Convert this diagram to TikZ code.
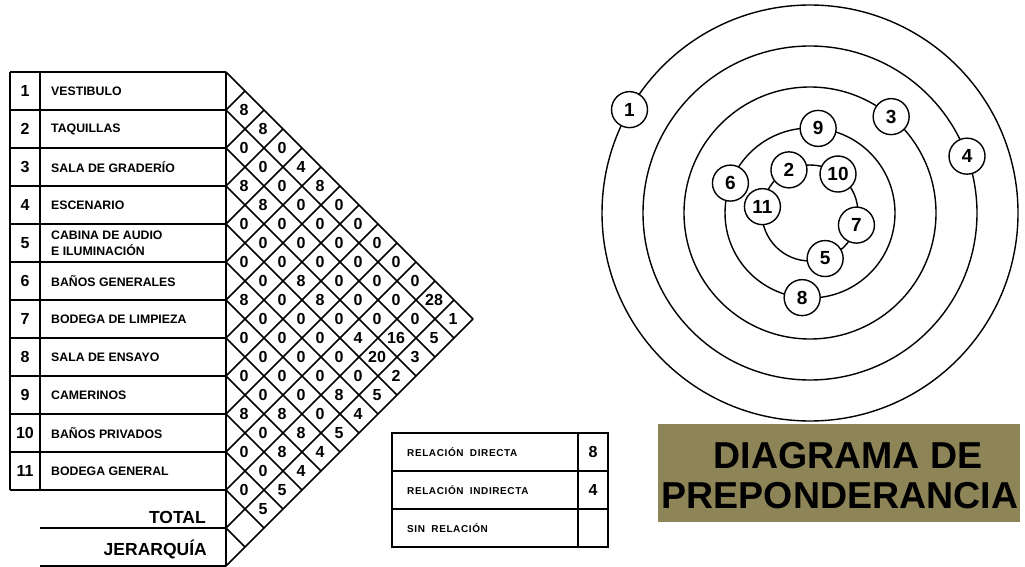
\documentclass[tikz,border=0pt]{standalone}
\usepackage{fontspec}
\setmainfont{Liberation Sans}
\usetikzlibrary{calc}
\definecolor{titlebg}{RGB}{141,133,87}
\begin{document}
\begin{tikzpicture}[x=1pt,y=-1pt,
  thinline/.style={line width=1.6pt},
  thickline/.style={line width=2.7pt},
  rowlabel/.style={anchor=west, font=\fontsize{12.3}{16}\selectfont\bfseries, inner sep=0, align=left},
  rownum/.style={font=\fontsize{16}{18}\selectfont\bfseries, inner sep=0},
  cellval/.style={font=\fontsize{16}{18}\selectfont\bfseries, inner sep=0},
  foot/.style={anchor=base east, font=\fontsize{17.5}{19}\selectfont\bfseries, inner sep=0},
  legtext/.style={anchor=west, font=\fontsize{10}{12}\selectfont\bfseries\addfontfeatures{LetterSpace=6}, inner sep=0},
  legval/.style={font=\fontsize{16}{18}\selectfont\bfseries, inner sep=0},
  ring/.style={line width=1.4pt},
  bub/.style={circle, draw, fill=white, line width=1.4pt, minimum size=36pt, inner sep=0, font=\fontsize{19}{21}\selectfont\bfseries},
  titletext/.style={font=\fontsize{37.5}{40}\selectfont\bfseries, inner sep=0, anchor=base}
]
\useasboundingbox (0,0) rectangle (1025,567);

% ---- table ----
\foreach \k in {0,...,11} \draw[thinline] (40,{72+38*\k}) -- (226,{72+38*\k});
\draw[thinline] (226,72) -- (226,566);
\draw[thinline] (40,528) -- (226,528);
\draw[thinline] (40,566) -- (226,566);
\foreach \k in {0,...,11} \draw[thickline] (10,{72+38*\k}) -- (40,{72+38*\k});
\draw[thickline] (10,72) -- (10,490);
\draw[thickline] (40,72) -- (40,490);

\foreach \n/\lab in {1/VESTIBULO, 2/TAQUILLAS, 3/SALA DE GRADERÍO, 4/ESCENARIO,
  5/{CABINA DE AUDIO\\E ILUMINACIÓN}, 6/BAÑOS GENERALES, 7/BODEGA DE LIMPIEZA,
  8/SALA DE ENSAYO, 9/CAMERINOS, 10/BAÑOS PRIVADOS, 11/BODEGA GENERAL} {
  \node[rownum] (num\n) at (25,{72+38*\n-19}) {\n};
  \node[rowlabel] (lab\n) at (51,{72+38*\n-19}) {\lab};
}
\node[foot] (total) at (206,523) {TOTAL};
\node[foot] (jer) at (207,555) {JERARQUÍA};

% ---- triangular matrix ----
\foreach \k in {0,...,13} {
  \draw[thinline] (226,{72+38*\k}) -- ++({247-19*\k},{247-19*\k});
  \draw[thinline] (226,{72+38*\k}) -- ++({19*\k},{-19*\k});
}
\foreach \i/\j/\v in {
  1/2/8, 1/3/8, 1/4/0, 1/5/4, 1/6/8, 1/7/0, 1/8/0, 1/9/0, 1/10/0, 1/11/0, 1/12/28, 1/13/1,
  2/3/0, 2/4/0, 2/5/0, 2/6/0, 2/7/0, 2/8/0, 2/9/0, 2/10/0, 2/11/0, 2/12/0, 2/13/5,
  3/4/8, 3/5/8, 3/6/0, 3/7/0, 3/8/0, 3/9/0, 3/10/0, 3/11/0, 3/12/16, 3/13/3,
  4/5/0, 4/6/0, 4/7/0, 4/8/8, 4/9/8, 4/10/0, 4/11/4, 4/12/20, 4/13/2,
  5/6/0, 5/7/0, 5/8/0, 5/9/0, 5/10/0, 5/11/0, 5/12/0, 5/13/5,
  6/7/8, 6/8/0, 6/9/0, 6/10/0, 6/11/0, 6/12/8, 6/13/4,
  7/8/0, 7/9/0, 7/10/0, 7/11/0, 7/12/0, 7/13/5,
  8/9/0, 8/10/0, 8/11/8, 8/12/8, 8/13/4,
  9/10/8, 9/11/0, 9/12/8, 9/13/4,
  10/11/0, 10/12/0, 10/13/5,
  11/12/0, 11/13/5}
  \node[cellval] (m\i-\j) at ({225+19*(\j-\i)},{72+19*(\i+\j-1)}) {\v};

% ---- legend ----
\draw[thinline] (392,433) rectangle (578,547);
\draw[thinline] (392,471) -- (578,471);
\draw[thinline] (392,509) -- (578,509);
\draw[thickline] (578,433) rectangle (608,547);
\draw[thickline] (578,471) -- (608,471);
\draw[thickline] (578,509) -- (608,509);
\node[legtext] (leg1) at (407,452) {RELACIÓN\hspace{3pt} DIRECTA};
\node[legtext] (leg2) at (407,490) {RELACIÓN\hspace{3pt} INDIRECTA};
\node[legtext] (leg3) at (407,528) {SIN\hspace{3pt} RELACIÓN};
\node[legval] (legv1) at (593,452) {8};
\node[legval] (legv2) at (593,490) {4};

% ---- title ----
\node[fill=titlebg, minimum width=362pt, minimum height=98pt, inner sep=0] (titlebox) at (839,473) {};
\node[titletext] (t1) at (848,468) {DIAGRAMA DE};
\node[titletext] (t2) at (840,508) {PREPONDERANCIA};

% ---- preponderance rings ----
\coordinate (ctr) at (810,213);
\foreach \r in {208,167,126,85,48} \draw[ring] (ctr) circle[radius=\r pt];
\foreach \n/\a/\r in {1/150.2/208, 4/19.9/167, 3/49.9/126, 9/84.5/85, 6/159.4/85,
  8/264.7/85, 2/116/48, 10/54.3/48, 11/172.4/48, 7/-14.6/48, 5/-71.6/48}
  \node[bub] (b\n) at ($(ctr)+(\a:\r pt)$) {\n};
\end{tikzpicture}
\end{document}
